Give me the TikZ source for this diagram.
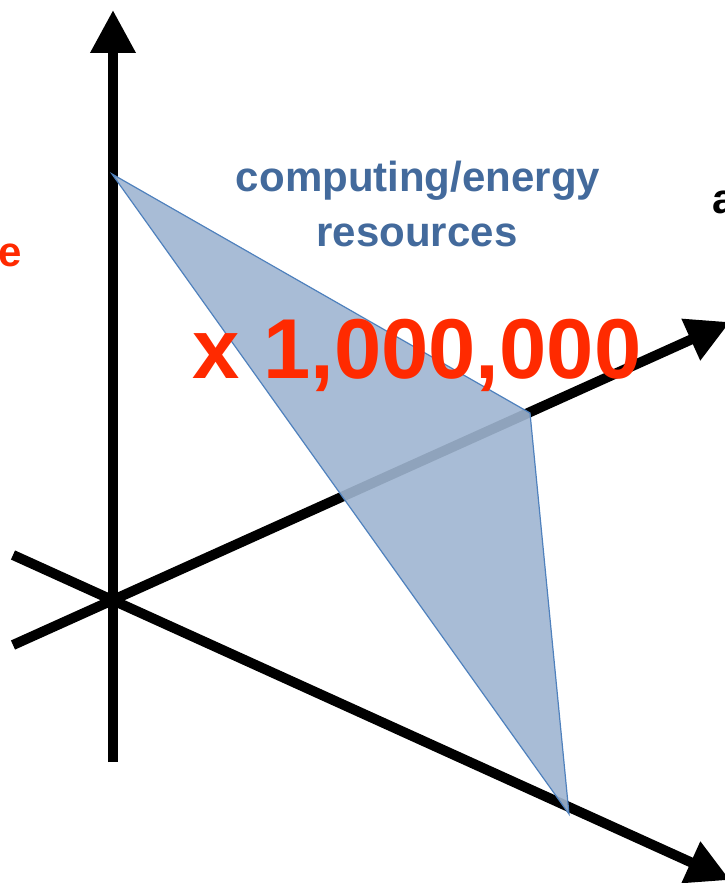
\documentclass[tikz,border=0pt]{standalone}
\usepackage{fontspec}
\setmainfont{Liberation Sans}
\usetikzlibrary{arrows.meta}
\definecolor{PlaneBlue}{HTML}{9FB5D1}
\definecolor{PlaneEdge}{HTML}{4F81BD}
\definecolor{LabelBlue}{HTML}{436A9C}
\definecolor{LabelRed}{HTML}{FF2A00}

\begin{document}
\begin{tikzpicture}[x=1pt,y=-1pt,
  axisline/.style={black,line width=10pt,-{Triangle[length=43pt,width=43pt]}},
  midfont/.style={font=\fontsize{42pt}{50pt}\selectfont\bfseries,inner sep=0pt,anchor=base},
  bigfont/.style={font=\fontsize{85pt}{90pt}\selectfont\bfseries,inner sep=0pt,anchor=base}]
  \useasboundingbox (0,0) rectangle (724,883);
  % axes
  \coordinate (zbot) at (113,762);
  \coordinate (ztop) at (113,10);
  \coordinate (xbeg) at (13,645);
  \coordinate (xend) at (730,322);
  \coordinate (ybeg) at (13,555);
  \coordinate (yend) at (730,880);
  \draw[axisline] (zbot) -- (ztop);
  \draw[axisline] (xbeg) -- (xend);
  \draw[axisline] (ybeg) -- (yend);
  % resource plane
  \coordinate (pz) at (112,174);
  \coordinate (px) at (530,413);
  \coordinate (py) at (569,814);
  \filldraw[fill=PlaneBlue,fill opacity=0.9,draw=PlaneEdge,line width=1.2pt]
    (pz) -- (px) -- (py) -- cycle;
  % labels
  \node[midfont,text=LabelBlue] (res1) at (418,191) {computing/energy};
  \node[midfont,text=LabelBlue] (res2) at (417,246) {resources};
  \node[bigfont,text=LabelRed] (factor) at (417,378) {x 1,000,000};
  \node[midfont,text=LabelRed,anchor=base east] (lefttxt) at (22,266) {e};
  \node[midfont,text=black,anchor=base west] (righttxt) at (712,213) {a};
\end{tikzpicture}
\end{document}
